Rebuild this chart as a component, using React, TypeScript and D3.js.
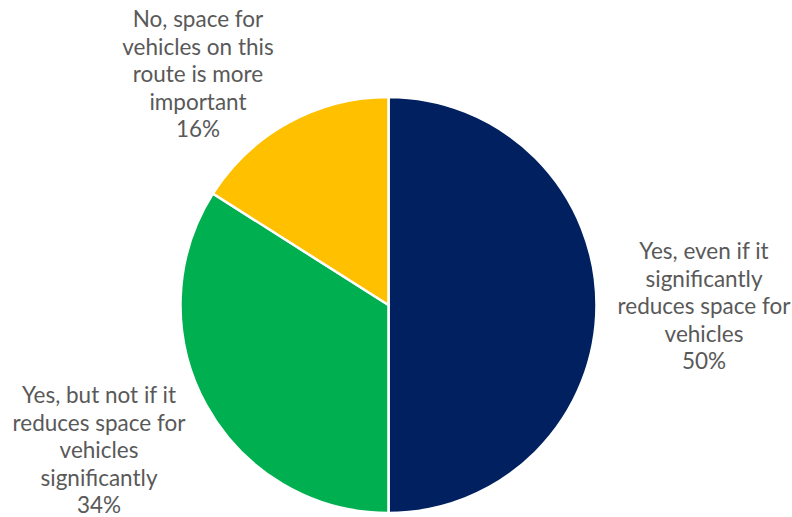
import React from "react";
import * as d3 from "d3";

const categories = [
  "Yes, even if it significantly reduces space for vehicles",
  "Yes, but not if it reduces space for vehicles significantly",
  "No, space for vehicles on this route is more important",
];
const values = [50, 34, 16];
const colors = ["#002060", "#00B050", "#FFC000"];
const labelLines = [
  ["Yes, even if it", "significantly", "reduces space for", "vehicles", "50%"],
  ["Yes, but not if it", "reduces space for", "vehicles", "significantly", "34%"],
  ["No, space for", "vehicles on this", "route is more", "important", "16%"],
];
const labelPos = [
  { x: 704, y: 259 },
  { x: 99, y: 403 },
  { x: 198, y: 27 },
];

export default function App() {
  const width = 792;
  const height = 517;
  const cx = 388.5;
  const cy = 305;
  const r = 208;
  const pie = d3.pie<number>().sort(null).value((d) => d)(values);
  const arc = d3.arc<d3.PieArcDatum<number>>().innerRadius(0).outerRadius(r);
  const lh = 27.6;
  return (
    <svg
      width={width}
      height={height}
      style={{ position: "absolute", left: 0, top: 0, background: "#fff" }}
      fontFamily="Lato, 'Open Sans', sans-serif"
    >
      <g transform={`translate(${cx},${cy})`}>
        {pie.map((d, i) => (
          <path key={categories[i]} d={arc(d) || ""} fill={colors[i]} stroke="#fff" strokeWidth={2.5} />
        ))}
      </g>
      {labelLines.map((lines, i) => (
        <text key={i} textAnchor="middle" fontSize={22.5} fill="#595959">
          {lines.map((t, j) => (
            <tspan key={j} x={labelPos[i].x} y={labelPos[i].y + j * lh}>
              {t}
            </tspan>
          ))}
        </text>
      ))}
    </svg>
  );
}
